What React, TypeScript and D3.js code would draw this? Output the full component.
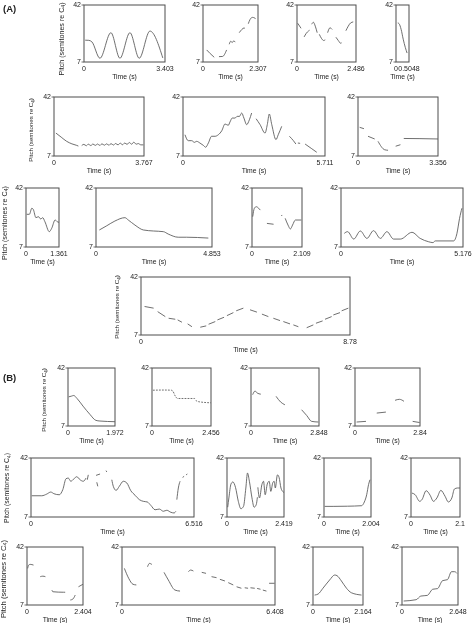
import React from "react";
import * as d3 from "d3";

type Pt = [number, number];
type Seg = Pt[];

// ---------- data ----------
const pitchDomain: [number, number] = [7, 42];
const pitchTickLabels = ["7", "42"];
const timeAxisTitle = "Time (s)";
const panelLabels = ["(A)", "(B)"];

const durationsA = [3.403, 2.307, 2.486, 0.5048, 3.767, 5.711, 3.356, 1.361, 4.853, 2.109, 5.176, 8.78];
const durationLabelsA = ["3.403", "2.307", "2.486", "0.5048", "3.767", "5.711", "3.356", "1.361", "4.853", "2.109", "5.176", "8.78"];
const durationsB = [1.972, 2.456, 2.848, 2.84, 6.516, 2.419, 2.004, 2.1, 2.404, 6.408, 2.164, 2.648];
const durationLabelsB = ["1.972", "2.456", "2.848", "2.84", "6.516", "2.419", "2.004", "2.1", "2.404", "6.408", "2.164", "2.648"];

// Section A contours (time s, pitch semitones re C4)
const a1: Seg[] = [[[0.05, 20.4], [0.2, 20.3], [0.33, 19.4], [0.67, 9.3], [1.13, 25], [1.51, 9.3], [1.93, 25], [2.32, 9.3], [2.77, 26], [3.31, 9.5]]];
const a2: Seg[] = [
  [[0.155, 14.4], [0.3, 12.2], [0.47, 9.9]],
  [[0.67, 10.3], [0.82, 10.4], [0.99, 14.4]],
  [[1.1, 17.9], [1.16, 19.7], [1.23, 19.0], [1.29, 20.0], [1.35, 19.2]],
  [[1.52, 25.0], [1.63, 27.0], [1.72, 27.9], [1.76, 27.6]],
  [[1.9, 30.5], [1.97, 33.0], [2.07, 34.4], [2.17, 34.0], [2.21, 33.4]],
];
const a3: Seg[] = [
  [[0.03, 30.8], [0.17, 27.7]],
  [[0.3, 22.4], [0.39, 24.6], [0.49, 26.1], [0.53, 26.5]],
  [[0.62, 30.2], [0.69, 31.4], [0.77, 29.0], [0.85, 25.0]],
  [[0.94, 24.0], [1.04, 21.3], [1.12, 20.2], [1.19, 20.6]],
  [[1.29, 25.0], [1.39, 28.0], [1.48, 27.0]],
  [[1.64, 22.2], [1.74, 20.2], [1.84, 18.5], [1.88, 18.8]],
  [[2.06, 26.2], [2.16, 29.0], [2.26, 31.0], [2.37, 31.6]],
];
const a4: Seg[] = [[[0.07, 31.0], [0.12, 30.5], [0.2, 27.0], [0.28, 21.0], [0.36, 16.0], [0.43, 12.5]]];
const a5: Seg[] = [
  [[0.08, 20.6], [0.3, 18.2], [0.53, 15.7], [0.75, 14.2], [0.95, 13.3], [1.02, 12.9]],
  [[1.16, 13.2], [1.25, 13.9], [1.35, 13.1], [1.44, 14.0], [1.54, 13.2], [1.63, 14.1], [1.73, 13.3], [1.82, 14.1], [1.92, 13.3], [2.01, 14.2], [2.11, 13.4], [2.2, 14.2], [2.3, 13.4], [2.39, 14.3], [2.49, 13.5], [2.58, 14.4], [2.68, 13.6], [2.77, 14.6], [2.87, 13.7], [2.96, 14.7], [3.06, 13.9], [3.15, 15.0], [3.25, 14.0], [3.34, 15.2], [3.44, 14.0], [3.53, 14.4], [3.63, 13.6], [3.74, 13.6]],
];
const a6: Seg[] = [
  [[0.08, 19.6], [0.21, 16.1], [0.35, 16.1], [0.46, 15.1], [0.55, 15.7], [0.68, 14.7], [0.82, 13.3], [0.91, 12.2], [1.02, 14.7], [1.15, 18.7], [1.29, 18.7], [1.42, 19.6], [1.56, 22.0], [1.69, 26.0], [1.82, 25.2], [1.89, 27.2], [1.98, 29.5], [2.09, 29.5], [2.18, 30.5], [2.27, 30.5], [2.36, 32.5], [2.45, 29.5], [2.56, 25.6], [2.67, 28.5], [2.76, 32.5]],
  [[2.94, 29.1], [3.1, 25.6], [3.3, 20.6], [3.39, 25.6], [3.47, 31.9], [3.57, 25.6], [3.74, 16.7], [3.83, 19.6], [3.97, 24.6]],
  [[4.28, 18.7], [4.44, 16.1], [4.54, 14.1]],
  [[4.62, 14.7], [4.71, 14.5]],
  [[4.91, 14.1], [5.18, 11.3], [5.38, 9.2]],
];
const a7: Seg[] = [
  [[0.07, 24.0], [0.25, 23.2]],
  [[0.42, 18.7], [0.7, 17.1]],
  [[0.84, 15.7], [1.12, 10.7], [1.26, 10.4]],
  [[1.58, 12.8], [1.78, 13.7]],
  [[1.92, 17.4], [2.6, 17.3], [3.356, 17.1]],
];
const a8: Seg[] = [[[0.03, 26.4], [0.14, 26.4], [0.24, 30.0], [0.3, 29.3], [0.41, 24.4], [0.51, 25.0], [0.61, 23.6], [0.69, 24.4], [0.78, 22.0], [0.96, 16.1], [1.06, 18.1], [1.2, 23.0], [1.29, 22.0], [1.36, 21.6]]];
const a9: Seg[] = [[[0.14, 17.1], [0.45, 19.6], [0.79, 22.4], [1.21, 24.4], [1.35, 23.0], [1.63, 20.0], [1.98, 17.1], [2.4, 16.5], [2.82, 16.1], [3.02, 14.7], [3.44, 12.8], [3.79, 12.8], [4.7, 12.3]]];
const a10: Seg[] = [
  [[0.03, 25.0], [0.1, 30.0], [0.18, 30.9], [0.28, 30.0], [0.35, 28.9]],
  [[0.63, 21.0], [0.91, 20.5]],
  [[1.24, 25.4], [1.27, 26.0]],
  [[1.4, 24.0], [1.52, 20.0], [1.62, 17.7], [1.71, 20.0], [1.83, 23.0], [2.08, 23.0]],
];
const a11: Seg[] = [[[0.14, 15.1], [0.28, 16.1], [0.54, 11.7], [0.82, 16.5], [1.1, 12.1], [1.38, 16.7], [1.67, 12.1], [1.95, 16.1], [2.23, 11.7], [2.52, 11.7], [3.01, 15.7], [3.36, 12.1], [3.72, 10.1], [3.9, 9.6], [4.0, 10.6], [4.78, 10.6], [4.92, 15.1], [5.03, 24.0], [5.13, 30.0]]];
const a12: Seg[] = [
  [[0.15, 24.2], [0.53, 23.2]],
  [[0.7, 21.1], [1.02, 18.1]],
  [[1.16, 17.1], [1.44, 16.5]],
  [[1.54, 16.1], [1.72, 14.7]],
  [[1.96, 13.7], [2.14, 12.0]],
  [[2.49, 11.7], [2.74, 12.5]],
  [[2.84, 13.5], [3.12, 15.1]],
  [[3.21, 16.1], [3.49, 17.7]],
  [[3.61, 18.7], [3.88, 20.5]],
  [[4.0, 21.6], [4.3, 23.2]],
  [[4.58, 22.2], [4.87, 20.8]],
  [[5.08, 19.6], [5.35, 18.1]],
  [[5.56, 17.1], [5.84, 15.7]],
  [[5.98, 15.1], [6.26, 13.7]],
  [[6.4, 13.1], [6.61, 12.0]],
  [[6.96, 11.4], [7.24, 13.1]],
  [[7.35, 14.1], [7.63, 15.5]],
  [[7.73, 16.5], [8.01, 18.1]],
  [[8.08, 19.1], [8.36, 20.5]],
  [[8.43, 21.6], [8.71, 23.2]],
];

// Section B contours
const b1: Seg[] = [[[0.03, 24.6], [0.14, 25.0], [0.24, 25.4], [0.38, 23.6], [0.63, 19.0], [0.92, 14.0], [1.17, 10.4], [1.34, 10.0], [1.97, 9.6]]];
const b2: Seg[] = [[[0.04, 28.6], [0.5, 28.7], [0.8, 28.6], [0.87, 28.0], [0.97, 25.0], [1.07, 23.6], [1.77, 23.6], [1.86, 22.0], [1.97, 21.6], [2.45, 21.0]]];
const b3: Seg[] = [
  [[0.07, 25.9], [0.17, 28.1], [0.26, 26.9], [0.41, 26.2]],
  [[1.05, 24.9], [1.24, 21.5], [1.42, 19.8]],
  [[2.12, 16.8], [2.33, 13.4], [2.54, 9.8], [2.82, 9.4]],
];
const b4: Seg[] = [
  [[0.07, 9.4], [0.48, 9.8]],
  [[0.95, 14.8], [1.35, 15.4]],
  [[1.75, 22.5], [1.94, 23.1], [2.14, 21.9]],
  [[2.52, 9.8], [2.82, 9.1]],
];
const b5: Seg[] = [
  [[0.03, 19.6], [0.43, 19.6], [0.63, 20.6], [0.79, 21.8], [0.92, 20.8], [1.13, 20.2], [1.27, 23.2], [1.4, 29.7], [1.49, 30.1], [1.59, 28.2], [1.72, 29.7], [1.83, 30.9], [1.96, 29.1], [2.09, 28.2], [2.2, 30.1]],
  [[2.25, 29.1], [2.29, 32.0]],
  [[2.6, 31.7], [2.76, 32.5]],
  [[2.63, 27.6], [2.67, 25.2]],
  [[3.0, 34.5], [3.03, 33.7]],
  [[3.23, 29.1], [3.29, 25.2], [3.4, 22.8], [3.53, 25.2], [3.69, 28.2], [3.83, 27.2], [3.99, 22.6], [4.16, 19.9], [4.33, 17.3], [4.49, 16.3], [4.65, 15.9], [4.79, 13.9], [4.96, 11.3], [5.13, 11.7], [5.29, 10.4], [5.43, 11.0], [5.59, 9.8], [5.72, 9.4], [5.79, 10.4]],
  [[5.83, 17.3], [5.89, 24.2], [5.96, 28.2]],
  [[6.06, 30.5], [6.12, 31.1]],
  [[6.2, 32.0], [6.25, 32.5]],
];
const b6: Seg[] = [
  [[0.03, 12.8], [0.08, 18.3], [0.17, 26.6], [0.25, 27.8], [0.36, 24.6], [0.48, 16.3], [0.59, 11.9], [0.7, 13.3], [0.8, 24.2], [0.87, 33.1], [0.95, 28.2], [1.06, 18.3], [1.15, 12.8], [1.24, 14.3], [1.29, 18.7]],
  [[1.31, 24.6], [1.38, 18.3], [1.48, 26.2], [1.55, 28.2], [1.62, 20.2], [1.71, 26.6], [1.79, 28.2], [1.86, 22.2], [1.94, 27.2], [2.0, 28.2], [2.05, 24.2], [2.14, 32.0], [2.21, 30.5], [2.29, 24.2], [2.36, 22.2], [2.42, 21.6]],
];
const b7: Seg[] = [[[0.03, 13.3], [0.39, 13.3], [1.0, 13.4], [1.6, 13.7], [1.72, 15.9], [1.82, 20.2], [1.9, 26.2], [1.96, 29.1]]];
const b8: Seg[] = [[[0.04, 21.2], [0.18, 20.2], [0.37, 16.3], [0.47, 17.3], [0.65, 22.6], [0.82, 19.9], [0.96, 16.3], [1.11, 18.3], [1.28, 22.8], [1.46, 19.3], [1.6, 15.9], [1.75, 18.3], [1.86, 23.6], [1.99, 24.2], [2.1, 24.2]]];
const b9: Seg[] = [
  [[0.03, 29.1], [0.07, 31.1], [0.14, 31.5], [0.28, 31.1]],
  [[0.57, 24.1], [0.68, 24.4], [0.79, 24.1]],
  [[1.07, 16.0], [1.11, 15.0], [1.57, 14.7], [1.64, 14.7]],
  [[1.86, 10.0], [1.97, 10.6], [2.07, 13.0]],
  [[2.21, 18.0], [2.4, 19.5]],
];
const b10: Seg[] = [
  [[0.1, 29.1], [0.28, 23.1], [0.46, 19.5], [0.6, 19.1]],
  [[1.07, 30.1], [1.15, 32.1], [1.25, 31.5]],
  [[1.76, 26.7], [1.94, 22.1], [2.22, 16.0], [2.43, 15.4]],
  [[2.78, 27.1], [2.88, 28.1], [2.99, 27.5]],
  [[3.34, 26.7], [3.52, 26.1]],
  [[3.75, 24.1], [3.96, 23.5]],
  [[4.1, 22.5], [4.31, 21.5]],
  [[4.45, 20.5], [4.66, 19.1]],
  [[4.8, 18.0], [5.0, 17.1]],
  [[5.14, 17.4], [5.28, 17.1]],
  [[5.38, 17.4], [5.56, 17.1]],
  [[5.66, 17.0], [5.8, 16.5]],
  [[5.9, 16.0], [6.05, 15.4]],
  [[6.16, 20.1], [6.39, 20.1]],
];
const b11: Seg[] = [[[0.07, 13.0], [0.22, 13.6], [0.43, 17.1], [0.72, 22.1], [0.94, 25.1], [1.04, 24.7], [1.23, 21.5], [1.45, 17.1], [1.66, 14.4], [2.1, 13.0]]];
const b12: Seg[] = [[[0.08, 9.4], [0.67, 10.2], [0.89, 12.4], [1.2, 12.8], [1.45, 16.5], [1.68, 16.9], [1.92, 21.7], [2.15, 22.3], [2.34, 27.1], [2.49, 27.1], [2.6, 26.1]]];

const contoursA = [a1, a2, a3, a4, a5, a6, a7, a8, a9, a10, a11, a12];
const contoursB = [b1, b2, b3, b4, b5, b6, b7, b8, b9, b10, b11, b12];

// ---------- layout (frames in px) ----------
type Frame = { x0: number; x1: number; y0: number; y1: number; lab?: [number, number, number]; dashed?: boolean };
const framesA: Frame[] = [
  { x0: 84, x1: 165, y0: 5, y1: 62, lab: [61, 39, 7.1] },
  { x0: 203, x1: 258, y0: 5, y1: 62 },
  { x0: 297, x1: 356, y0: 5, y1: 62 },
  { x0: 396, x1: 409, y0: 5, y1: 62 },
  { x0: 54, x1: 144, y0: 97, y1: 156, lab: [31, 130, 6.2] },
  { x0: 183, x1: 325, y0: 97, y1: 156 },
  { x0: 358, x1: 438, y0: 97, y1: 156 },
  { x0: 26, x1: 59, y0: 188, y1: 247, lab: [4, 223, 7.2] },
  { x0: 96, x1: 212, y0: 188, y1: 247 },
  { x0: 252, x1: 302, y0: 188, y1: 247 },
  { x0: 341, x1: 463, y0: 188, y1: 247 },
  { x0: 141, x1: 350, y0: 277, y1: 335, lab: [117, 307, 6.2] },
];
const framesB: Frame[] = [
  { x0: 68, x1: 115, y0: 368, y1: 426, lab: [44, 400, 6.2] },
  { x0: 152, x1: 211, y0: 368, y1: 426, dashed: true },
  { x0: 251, x1: 319, y0: 368, y1: 426 },
  { x0: 355, x1: 420, y0: 368, y1: 426 },
  { x0: 31, x1: 194, y0: 458, y1: 517, lab: [7, 488, 6.8] },
  { x0: 227, x1: 284, y0: 458, y1: 517 },
  { x0: 324, x1: 371, y0: 458, y1: 517 },
  { x0: 411, x1: 460, y0: 458, y1: 517 },
  { x0: 27, x1: 83, y0: 547, y1: 605, lab: [3, 579, 7.6] },
  { x0: 122, x1: 275, y0: 547, y1: 605 },
  { x0: 313, x1: 363, y0: 547, y1: 605 },
  { x0: 402, x1: 458, y0: 547, y1: 605 },
];

const FONT = "'Liberation Sans', Arial, Helvetica, sans-serif";
const INK = "#222";
const FRAME = "#4d4d4d";
const LINE = "#555";

function Panel({ f, dur, label, segs }: { f: Frame; dur: number; label: string; segs: Seg[] }) {
  const x = d3.scaleLinear().domain([0, dur]).range([f.x0, f.x1]);
  const y = d3.scaleLinear().domain(pitchDomain).range([f.y1, f.y0]);
  const line = d3
    .line<Pt>()
    .x((d) => x(d[0]))
    .y((d) => y(d[1]))
    .curve(d3.curveMonotoneX);
  return (
    <g>
      <rect x={f.x0} y={f.y0} width={f.x1 - f.x0} height={f.y1 - f.y0} fill="none" stroke={FRAME} strokeWidth={1} />
      {segs.map((s, i) => (
        <path key={i} d={line(s) || ""} fill="none" stroke={LINE} strokeWidth={0.85}
          strokeDasharray={f.dashed ? "1.8 1.2" : undefined} />
      ))}
      {pitchDomain.map((v, i) => (
        <g key={i}>
          <line x1={f.x0 - 2.5} x2={f.x0} y1={y(v)} y2={y(v)} stroke={FRAME} strokeWidth={0.8} />
          <text x={f.x0 - 3} y={y(v)} dy="0.35em" textAnchor="end" fontSize={7} fontFamily={FONT} fill={INK}>
            {pitchTickLabels[i]}
          </text>
        </g>
      ))}
      <text x={x(0)} y={f.y1 + 9} textAnchor="middle" fontSize={7} fontFamily={FONT} fill={INK}>0</text>
      <text x={x(dur)} y={f.y1 + 9} textAnchor="middle" fontSize={7} fontFamily={FONT} fill={INK}>{label}</text>
      <text x={(f.x0 + f.x1) / 2} y={f.y1 + 16.5} textAnchor="middle" fontSize={6.8} fontFamily={FONT} fill={INK}>
        {timeAxisTitle}
      </text>
      {f.lab && (
        <text transform={`translate(${f.lab[0]},${f.lab[1]}) rotate(-90)`} textAnchor="middle" dy="0.35em"
          fontSize={f.lab[2]} fontFamily={FONT} fill={INK}>
          Pitch (semitones re C<tspan fontSize={f.lab[2] * 0.72} dy={f.lab[2] * 0.22}>4</tspan>
          <tspan dy={-f.lab[2] * 0.22}>)</tspan>
        </text>
      )}
    </g>
  );
}

export default function App() {
  return (
    <svg width={474} height={623} style={{ position: "absolute", left: 0, top: 0, willChange: "transform" }}>
      <rect width={474} height={623} fill="#fff" />
      <text x={3} y={12} fontSize={9.5} fontWeight="bold" fontFamily={FONT} fill={INK}>{panelLabels[0]}</text>
      <text x={3} y={381} fontSize={9.5} fontWeight="bold" fontFamily={FONT} fill={INK}>{panelLabels[1]}</text>
      {framesA.map((f, i) => (
        <Panel key={"a" + i} f={f} dur={durationsA[i]} label={durationLabelsA[i]} segs={contoursA[i]} />
      ))}
      {framesB.map((f, i) => (
        <Panel key={"b" + i} f={f} dur={durationsB[i]} label={durationLabelsB[i]} segs={contoursB[i]} />
      ))}
    </svg>
  );
}
